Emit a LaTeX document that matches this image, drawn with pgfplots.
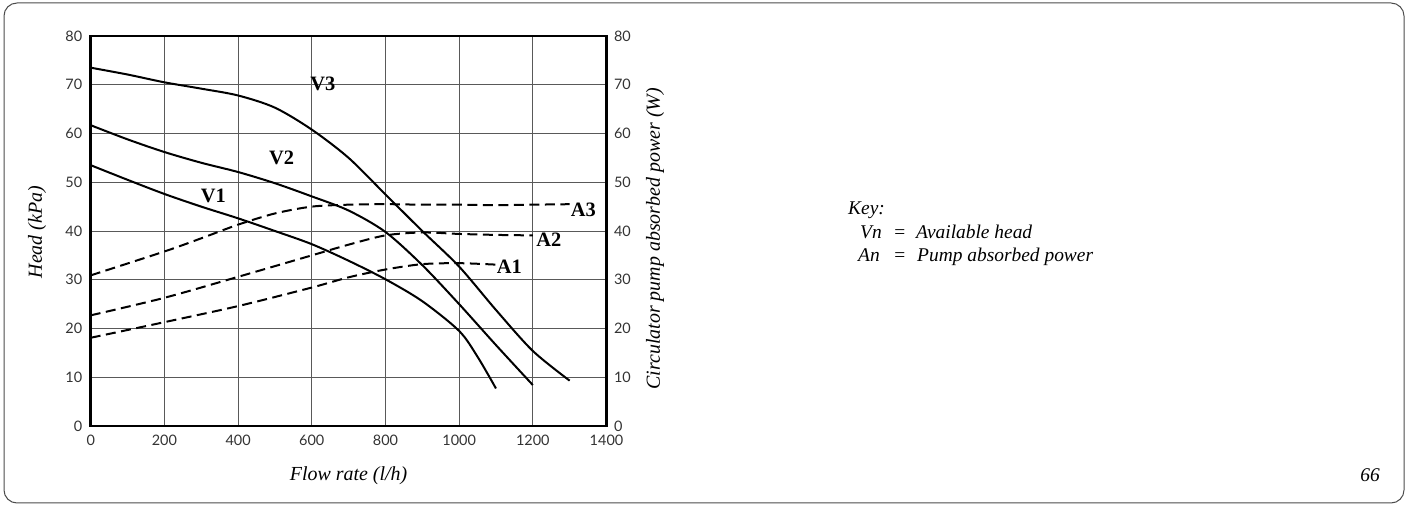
\documentclass[border=0pt]{standalone}
\usepackage{fontspec}
\setmainfont{Liberation Serif}
\newfontfamily\tickfont{Lato}
\usepackage{pgfplots}
\pgfplotsset{compat=1.18}

\begin{document}
\begin{tikzpicture}
\useasboundingbox (0,0) rectangle (1407bp,506bp);
\draw[black!70, line width=1bp, rounded corners=13bp] (4bp,3bp) rectangle (1404bp,503bp);

\begin{axis}[
  at={(90.7bp,80bp)}, anchor=south west,
  scale only axis, width=515.8bp, height=390bp,
  xmin=0, xmax=1400, ymin=0, ymax=80,
  xtick={0,200,...,1400}, ytick={0,10,...,80},
  grid=major,
  major grid style={black!65, line width=0.9bp},
  axis line style={line width=2.6bp},
  major tick length=0pt,
  tick label style={font=\tickfont\fontsize{14.5}{16}\selectfont, text=black!80},
  xticklabel style={yshift=-6bp},
  yticklabel style={xshift=-5bp},
  /pgf/number format/assume math mode=true,
  /pgf/number format/1000 sep={},
  xlabel={Flow rate (l/h)},
  ylabel={Head (kPa)},
  every axis x label/.style={at={(axis description cs:0.5,-0.128)}, anchor=center, font=\itshape\fontsize{20}{23}\selectfont},
  every axis y label/.style={at={(axis description cs:-0.104,0.497)}, anchor=center, rotate=90, font=\itshape\fontsize{20}{23}\selectfont},
  clip=false,
]
% Available head curves
\addplot[black, line width=2bp, smooth, tension=0.5] coordinates {
 (0,53.5) (100,50.5) (200,47.6) (300,45) (400,42.6) (500,40) (600,37.3) (700,33.9) (800,30.1) (900,25.6) (1000,19.5) (1050,14.2) (1100,7.7)};
\addplot[black, line width=2bp, smooth, tension=0.5] coordinates {
 (0,61.7) (100,58.8) (200,56.2) (300,54) (400,52.1) (500,49.8) (600,47.1) (700,44.2) (800,39.8) (900,33) (1000,25) (1100,16.6) (1200,8.4)};
\addplot[black, line width=2bp, smooth, tension=0.5] coordinates {
 (0,73.5) (100,72.1) (200,70.5) (300,69.2) (400,67.8) (500,65.3) (600,60.8) (700,55) (800,47.5) (900,40) (1000,32.7) (1100,23.8) (1200,15.4) (1300,9.3)};
% Absorbed power curves
\addplot[black, line width=2bp, smooth, tension=0.5, dash pattern=on 10bp off 5.5bp] coordinates {
 (0,18.1) (200,21.3) (400,24.6) (600,28.4) (700,30.5) (800,32.1) (900,33.2) (1000,33.4) (1100,33.1)};
\addplot[black, line width=2bp, smooth, tension=0.5, dash pattern=on 10bp off 5.5bp] coordinates {
 (0,22.7) (200,26.3) (400,30.6) (600,35) (700,37.2) (800,39.1) (900,39.7) (1000,39.4) (1100,39.2) (1200,39.1)};
\addplot[black, line width=2bp, smooth, tension=0.5, dash pattern=on 10bp off 5.5bp] coordinates {
 (0,30.9) (200,35.8) (300,38.5) (400,41.3) (500,43.6) (600,45) (700,45.4) (800,45.5) (900,45.4) (1000,45.4) (1100,45.3) (1200,45.4) (1300,45.5)};

\node[font=\bfseries\fontsize{20.5}{24}\selectfont, inner sep=0] at (axis cs:333,47.2) {V1};
\node[font=\bfseries\fontsize{20.5}{24}\selectfont, inner sep=0] at (axis cs:518,55) {V2};
\node[font=\bfseries\fontsize{20.5}{24}\selectfont, inner sep=0] at (axis cs:630,70.2) {V3};
\node[font=\bfseries\fontsize{20.5}{24}\selectfont, inner sep=0, anchor=west] at (axis cs:1102,32.7) {A1};
\node[font=\bfseries\fontsize{20.5}{24}\selectfont, inner sep=0, anchor=west] at (axis cs:1209,38.2) {A2};
\node[font=\bfseries\fontsize{20.5}{24}\selectfont, inner sep=0, anchor=west] at (axis cs:1303,44.3) {A3};
\end{axis}

\begin{axis}[
  at={(90.7bp,80bp)}, anchor=south west,
  scale only axis, width=515.8bp, height=390bp,
  xmin=0, xmax=1400, ymin=0, ymax=80,
  axis y line*=right, axis x line=none,
  ytick={0,10,...,80},
  major tick length=0pt,
  axis line style={line width=2.6bp},
  tick label style={font=\tickfont\fontsize{14.5}{16}\selectfont, text=black!80},
  yticklabel style={xshift=4bp},
  /pgf/number format/assume math mode=true,
  ylabel={Circulator pump absorbed power (W)},
  every axis y label/.style={at={(axis description cs:1.094,0.48)}, anchor=center, rotate=90, font=\itshape\fontsize{20}{23}\selectfont},
]
\end{axis}

\begin{scope}[font=\itshape\fontsize{19.5}{22}\selectfont]
\node[anchor=base west, inner sep=0] at (848bp,291bp) {Key:};
\node[anchor=base west, inner sep=0] at (860bp,267bp) {Vn};
\node[anchor=base west, inner sep=0] at (893bp,267bp) {=};
\node[anchor=base west, inner sep=0] at (916bp,267bp) {Available head};
\node[anchor=base west, inner sep=0] at (858bp,244bp) {An};
\node[anchor=base west, inner sep=0] at (893bp,244bp) {=};
\node[anchor=base west, inner sep=0] at (917bp,244bp) {Pump absorbed power};
\node[anchor=base east, inner sep=0] at (1380bp,24.3bp) {66};
\end{scope}
\end{tikzpicture}
\end{document}
